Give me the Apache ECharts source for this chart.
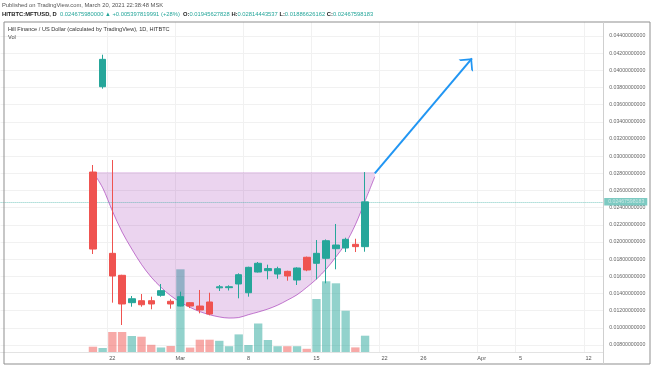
<!DOCTYPE html>
<html><head><meta charset="utf-8">
<script src="https://cdn.jsdelivr.net/npm/echarts@6/dist/echarts.min.js"></script>
<style>html,body{margin:0;padding:0;background:#fff}#c{width:654px;height:366px}</style>
</head><body><div id="c"></div><script>
// ---- categories (daily) ----
const allDates = [];
for (let t = Date.UTC(2021, 1, 11); t <= Date.UTC(2021, 3, 13); t += 86400000) {
  allDates.push(new Date(t).toISOString().slice(0, 10));
}
const labelDates = ['2021-02-22','2021-03-01','2021-03-08','2021-03-15','2021-03-22','2021-03-26','2021-04-01','2021-04-05','2021-04-12'];
const monthNames = ['Jan','Feb','Mar','Apr','May'];

// ---- OHLC (Feb 20 .. Mar 20) ----
const candleDates = allDates.slice(9, 38);
const opens  = [0.02815,0.03809,0.01868,0.01612,0.01293,0.01316,0.01316,0.01379,0.01309,0.01254,0.01293,0.01254,0.01301,0.01466,0.01468,0.01511,0.01409,0.01650,0.01666,0.01627,0.01658,0.01557,0.01822,0.01752,0.01810,0.01922,0.01930,0.01973,0.01945627828];
const closes = [0.01918,0.04128,0.01604,0.01278,0.01339,0.01269,0.01278,0.01433,0.01278,0.01363,0.01254,0.01208,0.01161,0.01478,0.01479,0.01619,0.01705,0.01752,0.01690,0.01689,0.01604,0.01697,0.01674,0.01868,0.02015,0.01965,0.02031,0.01946,0.02467598183];
const lows   = [0.01860,0.03786,0.01293,0.01033,0.01246,0.01246,0.01216,0.01363,0.01223,0.01250,0.01230,0.01169,0.01146,0.01429,0.01435,0.01344,0.01363,0.01645,0.01565,0.01572,0.01549,0.01499,0.01660,0.01565,0.01519,0.01682,0.01883,0.01883,0.01886626162];
const highs  = [0.02897,0.04182,0.02955,0.01618,0.01371,0.01394,0.01363,0.01511,0.01332,0.01421,0.01300,0.01441,0.01409,0.01499,0.01495,0.01635,0.01712,0.01767,0.01736,0.01712,0.01666,0.01705,0.01830,0.02023,0.02030,0.02210,0.02050,0.02038,0.02814443537];
const volumes = [5.3,4,20,20,16,15.3,7.2,4.5,6,82.7,4.4,12.3,12.3,11.2,5.8,17.6,7,28.5,12,5.8,5.8,5.8,3.2,53,70.7,68.7,41.3,4.6,16.3];

// ---- cup drawing ----
const cupRim = 0.02815;
const cupBottom = [0.02815,0.02631,0.02361,0.02116,0.01918,0.01738,0.01590,0.01472,0.01374,0.01299,0.01238,0.01189,0.01153,0.01127,0.01114,0.01120,0.01153,0.01184,0.01219,0.01264,0.01322,0.01385,0.01472,0.01568,0.01685,0.01826,0.01984,0.02201,0.02478,0.02760];
const cupDates = allDates.slice(9, 9 + cupBottom.length);

// ---- arrow drawing ----
const arrowFrom = ['2021-03-21', 0.0280];
const arrowTo   = ['2021-03-31', 0.0414];

const lastPrice = 0.02467598183;

const UP = '#26a69a', DOWN = '#ef5350';
const UPV = 'rgba(38,166,154,0.5)', DOWNV = 'rgba(239,83,80,0.5)';
const FONT = 'Liberation Sans, Arial, sans-serif';
const chevron = 'path://M0,20 L10,10 L20,20 L17.4,20 L10,12.6 L2.6,20 Z M10,0 L10.2,0 L10,0.2 Z';

const isLabel = (i, v) => labelDates.indexOf(v) >= 0;

const chart = echarts.init(document.getElementById('c'), null, {renderer: 'canvas'});
chart.setOption({
  animation: false,
  backgroundColor: '#fff',
  textStyle: {fontFamily: FONT},
  grid: [
    {left: 0.6, right: 50.8, top: 36, bottom: 21},
    {left: 0.6, right: 50.8, top: 22, bottom: 14}
  ],
  xAxis: [
    {type: 'category', gridIndex: 0, data: allDates, show: false},
    {type: 'category', gridIndex: 1, data: allDates,
     axisLine: {show: true, lineStyle: {color: '#e3e3e3', width: 1}},
     axisTick: {show: false},
     axisLabel: {interval: isLabel, margin: 3, fontSize: 5.6, color: '#555',
       formatter: v => { const d = +v.slice(8, 10); return d === 1 ? monthNames[+v.slice(5, 7) - 1] : String(d); }},
     splitLine: {show: true, interval: isLabel, lineStyle: {color: '#f1f1f1', width: 1}}}
  ],
  yAxis: [
    {type: 'value', gridIndex: 0, position: 'right', min: 0.008, max: 0.044, interval: 0.002,
     axisLine: {show: false}, axisTick: {show: false},
     axisLabel: {margin: 6, fontSize: 5.2, color: '#666', formatter: v => v.toFixed(11)},
     splitLine: {show: true, lineStyle: {color: '#f1f1f1', width: 1}}},
    {type: 'value', gridIndex: 1, min: 0, max: 330, show: false, splitLine: {show: false}}
  ],
  series: [
    {type: 'bar', name: 'Vol', xAxisIndex: 1, yAxisIndex: 1, barWidth: '86%', z: 1,
     data: candleDates.map((d, i) => ({value: [d, volumes[i]], itemStyle: {color: closes[i] >= opens[i] ? UPV : DOWNV}}))},
    {type: 'line', name: 'cupBase', xAxisIndex: 0, yAxisIndex: 0, stack: 'cup', smooth: 0.35, z: 2,
     showSymbol: false, silent: true,
     lineStyle: {color: 'rgba(156,39,176,0.6)', width: 1},
     data: cupDates.map((d, i) => [d, cupBottom[i]])},
    {type: 'line', name: 'cupFill', xAxisIndex: 0, yAxisIndex: 0, stack: 'cup', smooth: 0.35, z: 2,
     showSymbol: false, silent: true,
     lineStyle: {width: 0},
     areaStyle: {color: 'rgba(156,39,176,0.2)', opacity: 1},
     data: cupDates.map((d, i) => [d, cupRim - cupBottom[i]])},
    {type: 'candlestick', name: 'MFTUSD', xAxisIndex: 0, yAxisIndex: 0, barWidth: 7, z: 5,
     dimensions: ['date', 'open', 'close', 'lowest', 'highest'],
     encode: {x: 0, y: [1, 2, 3, 4]},
     itemStyle: {color: UP, color0: DOWN, borderColor: UP, borderColor0: DOWN, borderWidth: 1},
     data: candleDates.map((d, i) => [d, opens[i], closes[i], lows[i], highs[i]]),
     markLine: {
       silent: true, animation: false, symbol: ['none', 'none'], precision: 11,
       data: [
         {yAxis: lastPrice,
          lineStyle: {color: UP, type: 'dotted', width: 1, opacity: 0.6},
          label: {show: true, position: 'end', distance: 1, formatter: () => lastPrice.toFixed(11),
                  backgroundColor: UP, color: '#fff', fontSize: 5.2, padding: [1.5, 3, 1, 4], fontFamily: FONT}},
         [
           {coord: arrowFrom, symbol: 'none',
            lineStyle: {color: '#2196f3', width: 2, type: 'solid', opacity: 1}, label: {show: false}},
           {coord: arrowTo, symbol: chevron, symbolSize: 19,
            lineStyle: {color: '#2196f3', width: 2, type: 'solid', opacity: 1}, label: {show: false}}
         ]
       ]
     }}
  ],
  graphic: [
    {type: 'rect', z: 50, shape: {x: 4, y: 22, width: 646, height: 342},
     style: {fill: 'none', stroke: '#8f8f8f', lineWidth: 1}},
    {type: 'line', z: 50, shape: {x1: 603.5, y1: 22, x2: 603.5, y2: 364},
     style: {stroke: '#cfcfcf', lineWidth: 1}},
    {type: 'text', z: 60, left: 2, top: 2,
     style: {text: 'Published on TradingView.com, March 20, 2021 22:38:48 MSK', fontSize: 5.8, fill: '#555', fontFamily: FONT}},
    {type: 'text', z: 60, left: 2, top: 11,
     style: {text: '{b|HITBTC:MFTUSD, D}  {t|0.024675980000 ▲ +0.005397819991 (+28%)}  {b|O:}{t|0.01945627828} {b|H:}{t|0.02814443537} {b|L:}{t|0.01886626162} {b|C:}{t|0.02467598183}',
       fontFamily: FONT, fontSize: 5.8,
       rich: {b: {fill: '#222', fontWeight: 'bold', fontSize: 5.8, fontFamily: FONT},
              t: {fill: UP, fontSize: 5.8, fontFamily: FONT}}}},
    {type: 'text', z: 60, left: 8, top: 26,
     style: {text: 'Hill Finance / US Dollar (calculated by TradingView), 1D, HITBTC', fontSize: 5.6, fill: '#333', fontFamily: FONT}},
    {type: 'text', z: 60, left: 8, top: 34.5,
     style: {text: 'Vol', fontSize: 5.6, fill: '#444', fontFamily: FONT}}
  ]
});
</script></body></html>
